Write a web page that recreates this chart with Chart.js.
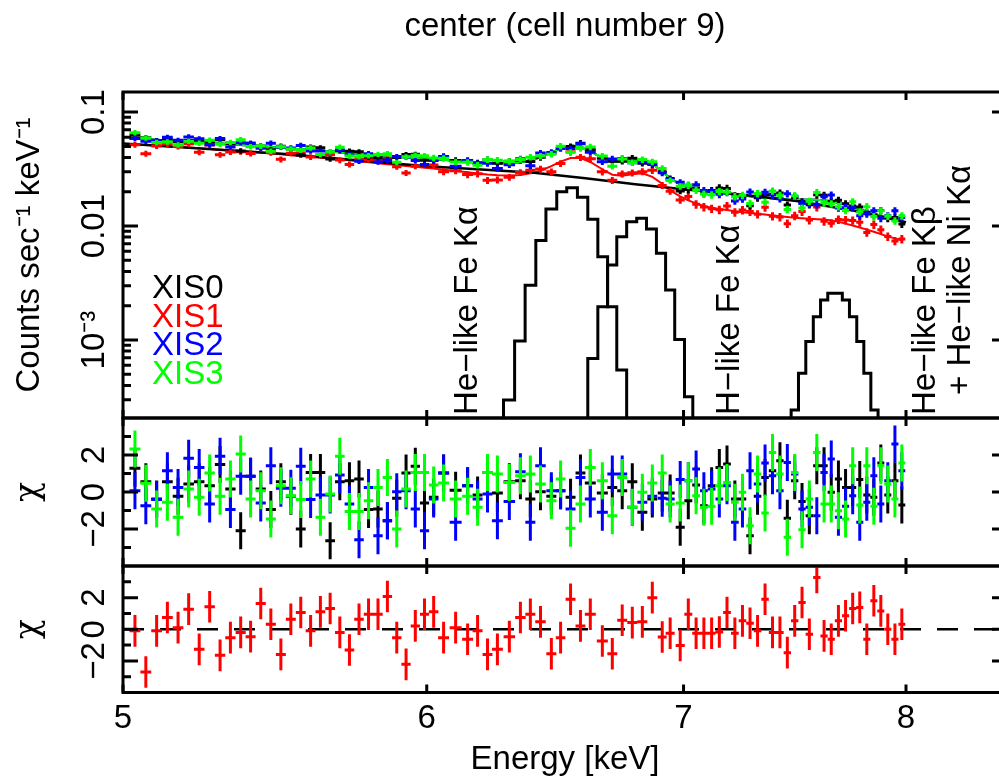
<!DOCTYPE html>
<html><head><meta charset="utf-8">
<script src="https://cdn.jsdelivr.net/npm/chart.js@4.4.1/dist/chart.umd.min.js"></script>
<style>
html,body{margin:0;padding:0;background:#fff;overflow:hidden;width:999px;height:777px;}
#wrap{position:relative;width:999px;height:777px;overflow:hidden;}
canvas{position:absolute;left:0;top:0;}
</style></head><body>
<div id="wrap">
<canvas id="cTop" width="1012" height="800"></canvas>
<canvas id="cMid" width="1012" height="800"></canvas>
<canvas id="cBot" width="1012" height="800"></canvas>
</div>
<script>
// ---------------- data ----------------
const energy = [5.036,5.069,5.102,5.135,5.168,5.201,5.234,5.267,5.300,5.333,5.366,5.398,5.431,5.464,5.497,5.530,5.563,5.596,5.629,5.662,5.695,5.728,5.761,5.794,5.827,5.860,5.893,5.926,5.959,5.992,
 6.025,6.061,6.105,6.149,6.186,6.223,6.260,6.305,6.347,6.385,6.424,6.466,6.502,6.541,6.580,6.619,6.667,6.707,6.747,6.788,6.829,6.870,6.911,6.944,6.986,
 7.020,7.053,7.086,7.119,7.152,7.185,7.219,7.252,7.285,7.318,7.351,7.384,7.417,7.450,7.483,7.516,7.549,7.583,7.616,7.649,7.682,7.715,7.748,7.781,7.814,7.847,7.880,7.913,7.947,7.980];

const xis0Counts = [0.0626,0.0596,0.0559,0.0581,0.0550,0.0563,0.0560,0.0546,0.0572,0.0527,0.0456,0.0532,0.0505,0.0468,0.0502,0.0474,0.0421,0.0493,0.0486,0.0387,0.0459,0.0453,0.0448,0.0403,0.0398,0.0378,0.0399,0.0424,0.0426,0.0378,
 0.0379,0.0407,0.0376,0.0375,0.0358,0.0383,0.0355,0.0370,0.0377,0.0369,0.0401,0.0433,0.0482,0.0498,0.0533,0.0469,0.0394,0.0371,0.0370,0.0394,0.0356,0.0346,0.0299,0.0261,0.0203,
 0.0210,0.0216,0.0193,0.0205,0.0216,0.0214,0.0184,0.0181,0.0151,0.0177,0.0187,0.0190,0.0195,0.0153,0.0178,0.0163,0.0154,0.0188,0.0186,0.0165,0.0168,0.0157,0.0150,0.0147,0.0132,0.0125,0.0137,0.0117,0.0119,0.0104];
const xis1Counts = [0.0517,0.0431,0.0505,0.0524,0.0499,0.0526,0.0445,0.0515,0.0422,0.0446,0.0449,0.0434,0.0483,0.0441,0.0385,0.0435,0.0438,0.0403,0.0424,0.0422,0.0379,0.0347,0.0384,0.0384,0.0376,0.0392,0.0332,0.0292,0.0335,0.0344,
 0.0344,0.0300,0.0306,0.0283,0.0287,0.0252,0.0254,0.0268,0.0295,0.0309,0.0316,0.0299,0.0354,0.0448,0.0401,0.0389,0.0299,0.0252,0.0287,0.0293,0.0300,0.0308,0.0227,0.0202,0.0169,
 0.0182,0.0155,0.0147,0.0142,0.0139,0.0150,0.0132,0.0138,0.0134,0.0127,0.0146,0.0122,0.0120,0.0105,0.0123,0.0134,0.0113,0.0147,0.0110,0.0106,0.0114,0.0113,0.0112,0.0108,0.0088,0.0103,0.0093,0.0081,0.0074,0.0077];
const xis2Counts = [0.0587,0.0554,0.0558,0.0600,0.0565,0.0605,0.0583,0.0517,0.0585,0.0495,0.0539,0.0532,0.0485,0.0533,0.0492,0.0485,0.0509,0.0455,0.0455,0.0448,0.0468,0.0422,0.0370,0.0431,0.0365,0.0378,0.0407,0.0403,0.0376,0.0346,
 0.0376,0.0407,0.0334,0.0375,0.0353,0.0355,0.0320,0.0345,0.0389,0.0338,0.0437,0.0442,0.0482,0.0478,0.0526,0.0444,0.0367,0.0388,0.0391,0.0360,0.0369,0.0350,0.0293,0.0256,0.0242,
 0.0228,0.0230,0.0205,0.0202,0.0190,0.0197,0.0166,0.0173,0.0199,0.0186,0.0198,0.0187,0.0174,0.0192,0.0182,0.0158,0.0159,0.0154,0.0181,0.0187,0.0144,0.0145,0.0145,0.0123,0.0128,0.0136,0.0117,0.0123,0.0136,0.0119];
const xis3Counts = [0.0660,0.0593,0.0542,0.0547,0.0515,0.0555,0.0534,0.0567,0.0522,0.0542,0.0573,0.0497,0.0503,0.0454,0.0496,0.0475,0.0462,0.0484,0.0424,0.0449,0.0492,0.0412,0.0406,0.0414,0.0425,0.0431,0.0362,0.0405,0.0419,0.0414,
 0.0396,0.0393,0.0365,0.0362,0.0342,0.0383,0.0378,0.0369,0.0384,0.0402,0.0411,0.0427,0.0502,0.0443,0.0479,0.0494,0.0411,0.0335,0.0387,0.0360,0.0383,0.0366,0.0320,0.0251,0.0223,
 0.0228,0.0207,0.0191,0.0188,0.0201,0.0199,0.0181,0.0186,0.0158,0.0193,0.0162,0.0203,0.0186,0.0140,0.0184,0.0144,0.0165,0.0197,0.0160,0.0157,0.0148,0.0137,0.0163,0.0133,0.0148,0.0121,0.0136,0.0122,0.0111,0.0123];

// relative 1-sigma errors of the counts, per energy band (<6, 6-7, >7 keV)
const errBandEdges = [6.0, 7.0];
const errFracFI = [0.055, 0.065, 0.075];
const errFracXIS1 = [0.06, 0.07, 0.085];

const modelFI = [0.0585,0.0578,0.0571,0.0564,0.0557,0.0550,0.0543,0.0536,0.0529,0.0522,0.0515,0.0508,0.0501,0.0494,0.0487,0.0480,0.0473,0.0466,0.0459,0.0452,0.0445,0.0438,0.0431,0.0425,0.0419,0.0413,0.0407,0.0401,0.0396,0.0391,
 0.0386,0.0381,0.0374,0.0367,0.0362,0.0358,0.0356,0.0357,0.0363,0.0378,0.0400,0.0440,0.0480,0.0508,0.0500,0.0455,0.0395,0.0365,0.0368,0.0380,0.0383,0.0355,0.0300,0.0262,0.0232,
 0.0218,0.0210,0.0204,0.0200,0.0196,0.0192,0.0189,0.0186,0.0183,0.0180,0.0177,0.0175,0.0173,0.0171,0.0170,0.0170,0.0170,0.0170,0.0168,0.0165,0.0160,0.0154,0.0147,0.0140,0.0134,0.0128,0.0123,0.0118,0.0114,0.0110];
const modelXIS1 = [0.0520,0.0514,0.0508,0.0502,0.0496,0.0489,0.0482,0.0475,0.0468,0.0461,0.0454,0.0447,0.0440,0.0433,0.0426,0.0419,0.0412,0.0405,0.0398,0.0391,0.0384,0.0377,0.0370,0.0363,0.0356,0.0349,0.0343,0.0337,0.0331,0.0325,
 0.0319,0.0312,0.0304,0.0296,0.0289,0.0283,0.0279,0.0277,0.0280,0.0290,0.0306,0.0335,0.0368,0.0395,0.0395,0.0365,0.0315,0.0282,0.0276,0.0285,0.0290,0.0270,0.0235,0.0205,0.0182,
 0.0168,0.0158,0.0150,0.0145,0.0141,0.0138,0.0135,0.0132,0.0130,0.0128,0.0126,0.0124,0.0122,0.0120,0.0118,0.0117,0.0116,0.0115,0.0114,0.0112,0.0109,0.0105,0.0101,0.0097,0.0093,0.0089,0.0085,0.0081,0.0078,0.0075];

const continuumE = [5.0, 5.5, 6.0, 6.2, 6.4, 6.6, 6.8, 7.0, 7.25, 7.5, 7.75, 8.0];
const continuumV = [0.0530, 0.0430, 0.0335, 0.0313, 0.0294, 0.0263, 0.0233, 0.0210, 0.0188, 0.0165, 0.0137, 0.0108];

const heFeKaEdges = [6.283,6.325,6.365,6.406,6.445,6.487,6.526,6.568,6.609,6.649,6.688,6.725,6.765];
const heFeKaVals  = [2.98e-4,9.8e-4,3.03e-3,7.48e-3,0.0141,0.0200,0.0217,0.0179,0.0115,5.38e-3,1.96e-3,5.46e-4];
const hFeKaEdges  = [6.609,6.649,6.688,6.725,6.765,6.806,6.846,6.887,6.925,6.963,7.004,7.039];
const hFeKaVals   = [6.9e-4,1.96e-3,4.55e-3,8.05e-3,0.0109,0.0117,9.4e-3,5.76e-3,2.75e-3,1.01e-3,3.18e-4];
const feKbEdges   = [7.467,7.500,7.533,7.567,7.600,7.633,7.667,7.700,7.733,7.767,7.800,7.833,7.867];
const feKbVals    = [2.43e-4,5.1e-4,9.7e-4,1.6e-3,2.25e-3,2.57e-3,2.57e-3,2.25e-3,1.6e-3,9.7e-4,5.1e-4,2.43e-4];

const xis0Chi = [1.28,0.56,-0.38,0.56,-0.23,0.43,0.56,0.34,1.48,0.16,-2.09,0.85,0.16,-0.95,0.56,-0.23,-2.0,1.06,1.06,-2.63,0.56,0.61,0.7,-0.95,-0.92,-1.55,-0.34,1.03,1.39,-0.59,
 -0.29,1.03,0.1,0.34,-0.16,1.06,-0.05,0.56,0.61,-0.38,0.02,-0.23,0.07,-0.29,1.03,0.49,-0.05,0.25,0.07,0.56,-1.1,-0.38,-0.05,-0.05,-1.91,
 -0.47,0.38,-0.74,0.34,1.33,1.51,-0.38,-0.38,-2.36,-0.23,0.79,1.15,1.69,-1.42,0.61,-0.52,-1.28,1.42,1.42,-0.02,0.7,0.25,0.25,0.67,-0.16,-0.29,1.57,-0.16,0.61,-0.7];
const xis1Chi = [-0.1,-2.7,-0.1,0.74,0.1,1.27,-1.27,1.42,-1.65,-0.53,-0.2,-0.47,1.63,0.32,-1.59,0.63,1.06,-0.1,1.1,1.31,-0.2,-1.31,0.63,0.95,0.95,2.07,-0.53,-2.22,0.21,0.95,
 1.1,-0.53,0.1,-0.63,-0.1,-1.59,-1.27,-0.47,0.74,0.95,0.47,-1.55,-0.53,1.9,0.21,0.95,-0.74,-1.55,0.57,0.42,0.47,2.0,-0.49,-0.25,-1.02,
 0.95,-0.25,-0.25,-0.25,-0.17,1.06,-0.25,0.53,0.38,-0.1,1.9,-0.2,-0.2,-1.48,0.53,1.69,-0.32,3.28,-0.42,-0.63,0.53,0.85,1.31,1.38,-0.63,1.8,1.16,0.0,-0.63,0.32];
const xis2Chi = [0.07,-0.74,-0.41,1.15,0.25,1.82,1.33,-0.65,1.93,-0.95,0.85,0.85,-0.59,1.42,0.2,0.2,1.39,-0.41,-0.16,-0.16,0.92,-0.65,-2.58,0.25,-2.36,-1.55,0.02,0.07,-0.92,-2.09,
 -0.38,1.03,-1.64,0.34,-0.38,-0.11,-1.55,-0.52,1.1,-1.64,1.42,0.07,0.07,-0.92,0.79,-0.38,-1.1,0.97,0.97,-0.83,-0.56,-0.23,-0.34,-0.38,0.67,
 0.61,1.24,0.07,0.16,-0.38,0.34,-1.64,-0.92,1.15,0.43,1.57,0.88,0.07,1.6,0.97,-0.92,-0.83,-1.28,1.06,1.78,-1.37,-0.77,-0.2,-1.64,-0.56,0.88,-0.65,0.61,2.59,1.15];
const xis3Chi = [2.32,0.47,-0.92,-0.56,-1.37,0.16,-0.29,1.03,-0.23,0.7,2.05,-0.38,0.07,-1.46,0.34,-0.2,-0.41,0.7,-1.37,-0.11,1.93,-1.06,-1.06,-0.47,0.25,0.79,-2.0,0.16,1.06,1.06,
 0.38,0.49,-0.38,-0.23,-0.83,1.06,0.97,0.52,0.88,0.97,0.43,-0.47,0.7,-1.96,-0.65,1.33,0.61,-1.28,0.79,-0.83,-0.02,0.49,1.03,-0.65,-0.59,
 0.61,-0.2,-0.83,-0.77,0.34,0.52,-0.56,-0.02,-1.82,0.97,-1.14,2.14,0.97,-2.45,1.06,-2.04,-0.38,2.14,-0.65,-0.65,-1.01,-1.46,1.42,-0.7,1.42,-0.77,1.42,0.43,-0.38,1.57];
const chiErr = 1;
const chiZero = 0;

const xRange = [5, 8.5];
const countRange = [2.07e-4, 0.15];
const chiRange = [-4, 4];
const xTicks = [5, 6, 7, 8];
const xTickLabels = ['5', '6', '7', '8'];
const countTicks = [0.1, 0.01, 0.001];
const countTickLabels = ['0.1', '0.01', '10⁻³'];
const chiTicks = [-2, 0, 2];
const chiTickLabels = ['−2', '0', '2'];
const chiMinorTicks = [-3, -1, 1, 3];

const seriesNames = ['XIS0', 'XIS1', 'XIS2', 'XIS3'];
const seriesColors = ['#000000', '#ff0000', '#0000ff', '#00ff00'];
const lineLabels = ['He−like Fe Kα', 'H−like Fe Kα', 'He−like Fe Kβ', '+ He−like Ni Kα'];

const titleText = 'center (cell number 9)';
const yTitleCounts = 'Counts sec⁻¹ keV⁻¹';
const yTitleChi = 'χ';
const xTitle = 'Energy [keV]';

// ---------------- helpers (build library tables from the arrays) ----------------
const FONT = "'Liberation Sans', Arial, Helvetica, sans-serif";
const CHI_FONT = "'DejaVu Serif', 'DejaVu Sans', serif";
Chart.defaults.font.family = FONT;
Chart.defaults.font.size = 33;
Chart.defaults.color = '#000';

const halfW = energy.map((e, i) => {
  const a = i > 0 ? energy[i - 1] : 2 * e - energy[i + 1];
  const b = i < energy.length - 1 ? energy[i + 1] : 2 * e - energy[i - 1];
  return (b - a) / 4;
});
function band(e) { return e < errBandEdges[0] ? 0 : (e < errBandEdges[1] ? 1 : 2); }
function crosses(vals, lo, hi) {
  const p = [];
  energy.forEach((e, i) => {
    p.push({x: e - halfW[i], y: vals[i]}, {x: e + halfW[i], y: vals[i]}, {x: e + halfW[i], y: null});
    p.push({x: e, y: lo[i]}, {x: e, y: hi[i]}, {x: e, y: null});
  });
  return p;
}
function countCrosses(vals, frac) {
  return crosses(vals, vals.map((v, i) => v * (1 - frac[band(energy[i])])), vals.map((v, i) => v * (1 + frac[band(energy[i])])));
}
function chiCrosses(vals) {
  return crosses(vals, vals.map(v => v - chiErr), vals.map(v => v + chiErr));
}
function steps(edges, vals) {
  const floor = countRange[0] * 0.3;
  const p = [{x: edges[0], y: floor}];
  vals.forEach((v, i) => { p.push({x: edges[i], y: v}, {x: edges[i + 1], y: v}); });
  p.push({x: edges[edges.length - 1], y: floor});
  return p;
}
function pairs(xs, ys) { return xs.map((x, i) => ({x, y: ys[i]})); }

const LW = 3;
function ds(data, color, order, extra) {
  return Object.assign({type: 'line', data, borderColor: color, backgroundColor: color, borderWidth: LW,
    pointRadius: 0, pointHoverRadius: 0, fill: false, spanGaps: false, tension: 0, order}, extra || {});
}

const framePlugin = {
  id: 'frame',
  afterDatasetsDraw(chart, args, o) {
    const {ctx, chartArea: a, scales} = chart;
    const xs = scales.x, ys = scales.y;
    ctx.save();
    ctx.strokeStyle = '#000'; ctx.lineWidth = 3; ctx.lineCap = 'butt';
    ctx.strokeRect(a.left, a.top, a.right - a.left, a.bottom - a.top);
    ctx.beginPath();
    xTicks.forEach(v => {
      const p = xs.getPixelForValue(v);
      ctx.moveTo(p, a.bottom); ctx.lineTo(p, a.bottom - o.xLen);
      ctx.moveTo(p, a.top); ctx.lineTo(p, a.top + o.xLen);
    });
    const yt = (list, len) => list.forEach(v => {
      const p = ys.getPixelForValue(v);
      ctx.moveTo(a.left, p); ctx.lineTo(a.left + len, p);
      ctx.moveTo(a.right, p); ctx.lineTo(a.right - len, p);
    });
    yt(o.yMajor, o.majorLen); yt(o.yMinor, o.minorLen);
    ctx.stroke();
    ctx.restore();
  }
};

const annotPlugin = {
  id: 'annot',
  afterDraw(chart, args, o) {
    if (!o.show) return;
    const ctx = chart.ctx;
    ctx.save();
    ctx.font = '33px ' + FONT;
    ctx.textAlign = 'left'; ctx.textBaseline = 'alphabetic';
    seriesNames.forEach((n, i) => {
      ctx.fillStyle = seriesColors[i];
      ctx.fillText(n, o.legendX, o.legendY0 + i * o.legendStep);
    });
    ctx.fillStyle = '#000'; ctx.textBaseline = 'middle';
    lineLabels.forEach((t, i) => {
      const [x, y] = o.labelPos[i];
      ctx.save(); ctx.translate(x, y); ctx.rotate(-Math.PI / 2); ctx.fillText(t, 0, 0); ctx.restore();
    });
    ctx.restore();
  }
};

function xScale(showLabels) {
  const s = {type: 'logarithmic', min: xRange[0], max: xRange[1], display: showLabels,
    afterBuildTicks: sc => { sc.ticks = xTicks.map(v => ({value: v})); },
    grid: {display: false, drawTicks: false}, border: {display: false},
    ticks: {autoSkip: false, maxRotation: 0, minRotation: 0, padding: 7, font: {size: 33},
      callback: v => { const i = xTicks.indexOf(v); return i >= 0 ? xTickLabels[i] : ''; }}};
  if (showLabels) {
    s.afterFit = sc => { sc.height = 800 - 692.5; };
    s.title = {display: true, text: xTitle, font: {size: 33}, padding: {top: 0, bottom: 20}};
  }
  return s;
}
function yScale(type, range, ticks, labels, title, pad, titleFont) {
  return {type, min: range[0], max: range[1], position: 'left',
    afterFit: sc => { sc.width = 123; },
    afterBuildTicks: sc => { sc.ticks = ticks.map(v => ({value: v})); },
    grid: {display: false, drawTicks: false}, border: {display: false},
    ticks: {autoSkip: false, minRotation: 90, maxRotation: 90, crossAlign: 'center', padding: pad, font: {size: 33},
      callback: v => { const i = ticks.findIndex(t => Math.abs(t - v) < 1e-9); return i >= 0 ? labels[i] : ''; }},
    title: {display: true, text: title, font: titleFont || {size: 33}, padding: {top: 10, bottom: 0}}};
}
function baseOptions(padding) {
  return {responsive: false, animation: false, devicePixelRatio: 1, events: [],
    layout: {padding},
    plugins: {legend: {display: false}, tooltip: {enabled: false}, title: {display: false}}};
}

// minor log ticks of the counts axis (tick positions only)
const countMinor = [];
for (let d = -4; d <= -1; d++) for (let k = 2; k <= 9; k++) {
  const v = k * Math.pow(10, d);
  if (v > countRange[0] && v < countRange[1]) countMinor.push(v);
}

// ---------------- top panel ----------------
const topOpts = baseOptions({left: 0, right: 5, top: 0, bottom: 382});
topOpts.scales = {x: xScale(false), y: yScale('logarithmic', countRange, countTicks, countTickLabels, yTitleCounts, -4)};
topOpts.plugins.title = {display: true, text: titleText, fullSize: false, font: {size: 33, weight: 'normal'}, color: '#000', padding: {top: 7, bottom: 45.4}};
topOpts.plugins.frame = {xLen: 8, majorLen: 15, minorLen: 8, yMajor: countTicks, yMinor: countMinor};
topOpts.plugins.annot = {show: true, legendX: 152, legendY0: 298, legendStep: 28.5,
  labelPos: [[467.5, 415], [729.5, 415], [925.5, 415], [960.5, 395]]};
new Chart(document.getElementById('cTop'), {
  type: 'line',
  data: {datasets: [
    ds(steps(heFeKaEdges, heFeKaVals), '#000', 0, {borderWidth: 3}),
    ds(steps(hFeKaEdges, hFeKaVals), '#000', 0, {borderWidth: 3}),
    ds(steps(feKbEdges, feKbVals), '#000', 0, {borderWidth: 3}),
    ds(countCrosses(xis3Counts, errFracFI), seriesColors[3], 2),
    ds(countCrosses(xis2Counts, errFracFI), seriesColors[2], 3),
    ds(countCrosses(xis0Counts, errFracFI), seriesColors[0], 4),
    ds(countCrosses(xis1Counts, errFracXIS1), seriesColors[1], 5),
    ds(pairs(continuumE, continuumV), '#000', 6, {borderWidth: 2.5}),
    ds(pairs(energy, modelFI), seriesColors[3], 7, {borderWidth: 2}),
    ds(pairs(energy, modelFI), seriesColors[2], 8, {borderWidth: 2}),
    ds(pairs(energy, modelFI), seriesColors[0], 9, {borderWidth: 2}),
    ds(pairs(energy, modelXIS1), seriesColors[1], 10, {borderWidth: 2})
  ]},
  options: topOpts,
  plugins: [framePlugin, annotPlugin]
});

// ---------------- middle panel (XIS0, XIS2, XIS3) ----------------
const chiTitleFont = {size: 33, family: CHI_FONT};
const midOpts = baseOptions({left: 0, right: 5, top: 418, bottom: 234});
midOpts.scales = {x: xScale(false), y: yScale('linear', chiRange, chiTicks, chiTickLabels, yTitleChi, 9, chiTitleFont)};
midOpts.plugins.frame = {xLen: 8, majorLen: 15, minorLen: 8, yMajor: chiTicks, yMinor: chiMinorTicks};
new Chart(document.getElementById('cMid'), {
  type: 'line',
  data: {datasets: [
    ds(chiCrosses(xis3Chi), seriesColors[3], 1),
    ds(chiCrosses(xis2Chi), seriesColors[2], 2),
    ds(chiCrosses(xis0Chi), seriesColors[0], 3)
  ]},
  options: midOpts,
  plugins: [framePlugin]
});

// ---------------- bottom panel (XIS1) ----------------
const botOpts = baseOptions({left: 0, right: 5, top: 566, bottom: 0});
botOpts.scales = {x: xScale(true), y: yScale('linear', chiRange, chiTicks, chiTickLabels, yTitleChi, 9, chiTitleFont)};
botOpts.plugins.frame = {xLen: 8, majorLen: 15, minorLen: 8, yMajor: chiTicks, yMinor: chiMinorTicks};
new Chart(document.getElementById('cBot'), {
  type: 'line',
  data: {datasets: [
    ds(chiCrosses(xis1Chi), seriesColors[1], 1),
    ds([{x: xRange[0], y: chiZero}, {x: xRange[1], y: chiZero}], '#000', 2, {borderDash: [21, 16], borderWidth: 2.5})
  ]},
  options: botOpts,
  plugins: [framePlugin]
});
</script>
</body></html>
